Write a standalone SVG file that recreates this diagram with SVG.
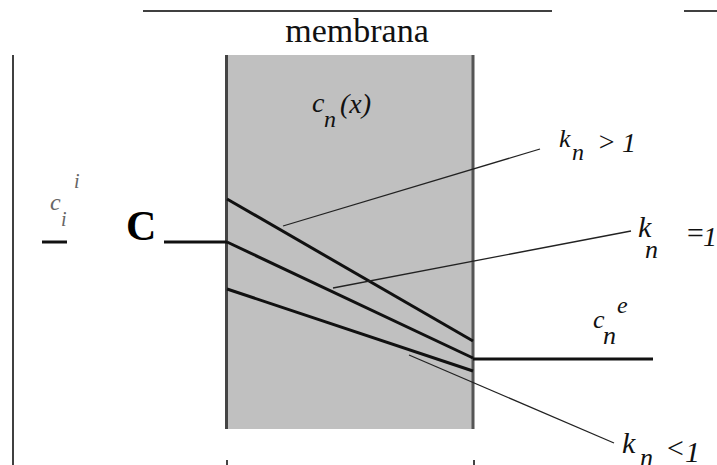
<svg xmlns="http://www.w3.org/2000/svg" width="717" height="465" viewBox="0 0 717 465">
<style>
.lbl{font-family:"Liberation Serif","DejaVu Serif","Times New Roman",serif;font-style:italic;fill:#111}
.grey{fill:#666}
.rom{font-family:"Liberation Serif","DejaVu Serif","Times New Roman",serif;fill:#111}
.thick{stroke:#111;stroke-width:3;fill:none}
.thin{stroke:#222;stroke-width:1.3;fill:none}
.frame{stroke:#000;stroke-width:1.5;fill:none}
</style>
<rect width="717" height="465" fill="#fff"/>
<g id="frame">
<line class="frame" x1="143" y1="11" x2="552" y2="11"/>
<line class="frame" x1="684" y1="11" x2="717" y2="11"/>
<line class="frame" x1="13" y1="55" x2="13" y2="465" stroke-width="2"/>
</g>
<g id="membrana">
<text class="rom" x="357" y="42" text-anchor="middle" font-size="34">membrana</text>
<rect x="226" y="55" width="248" height="374" fill="#c0c0c0"/>
<line x1="226.5" y1="55" x2="226.5" y2="429" stroke="#444" stroke-width="3"/>
<line x1="473" y1="55" x2="473" y2="429" stroke="#555" stroke-width="3"/>
<line x1="227" y1="460" x2="227" y2="465" stroke="#444" stroke-width="2"/>
<line x1="474" y1="460" x2="474" y2="465" stroke="#444" stroke-width="2"/>
<text class="lbl" x="312" y="112" font-size="28">c</text>
<text class="lbl" x="324" y="127" font-size="24">n</text>
<text class="lbl" x="340" y="113" font-size="28">(x)</text>
</g>
<g id="ci">
<text class="lbl grey" x="50" y="210" font-size="24">c</text>
<text class="lbl grey" x="74" y="188" font-size="20">i</text>
<text class="lbl grey" x="61" y="226" font-size="20">i</text>
<rect x="68" y="190" width="96" height="70" fill="#fff"/>
<text class="rom" x="126" y="240" font-weight="bold" font-size="42" style="fill:#000">C</text>
</g>
<g id="ce">
<text class="lbl" x="593" y="328" font-size="26">c</text>
<text class="lbl" x="617" y="313" font-size="24">e</text>
<text class="lbl" x="603" y="344" font-size="26">n</text>
</g>
<g id="kgt">
<text class="lbl" x="559" y="147" font-size="26">k</text>
<text class="lbl" x="572" y="160" font-size="24">n</text>
<text class="lbl" x="597" y="151" font-size="28">&gt;</text>
<text class="lbl" x="622" y="152" font-size="28">1</text>
</g>
<g id="keq">
<text class="lbl" x="638" y="237" font-size="30">k</text>
<text class="lbl" x="645" y="258" font-size="26">n</text>
<text class="lbl" x="685" y="243" font-size="30">=</text>
<text class="lbl" x="703" y="246" font-size="28">1</text>
</g>
<g id="klt">
<text class="lbl" x="622" y="453" font-size="30">k</text>
<text class="lbl" x="640" y="466" font-size="26">n</text>
<text class="lbl" x="665" y="458" font-size="30">&lt;</text>
<text class="lbl" x="685" y="462" font-size="30">1</text>
</g>
<g id="connectors">
<line class="thick" x1="42" y1="242" x2="67" y2="242"/>
<line class="thick" x1="164" y1="242" x2="227" y2="242"/>
<line class="thick" x1="227" y1="199" x2="473" y2="341"/>
<line class="thick" x1="227" y1="242" x2="473" y2="358"/>
<line class="thick" x1="227" y1="289" x2="473" y2="371"/>
<line class="thick" x1="473" y1="359" x2="653" y2="359"/>
<line class="thin" x1="283" y1="226" x2="540" y2="149"/>
<line class="thin" x1="333" y1="288" x2="631" y2="231"/>
<line class="thin" x1="409" y1="355" x2="614" y2="443"/>
</g>
</svg>
